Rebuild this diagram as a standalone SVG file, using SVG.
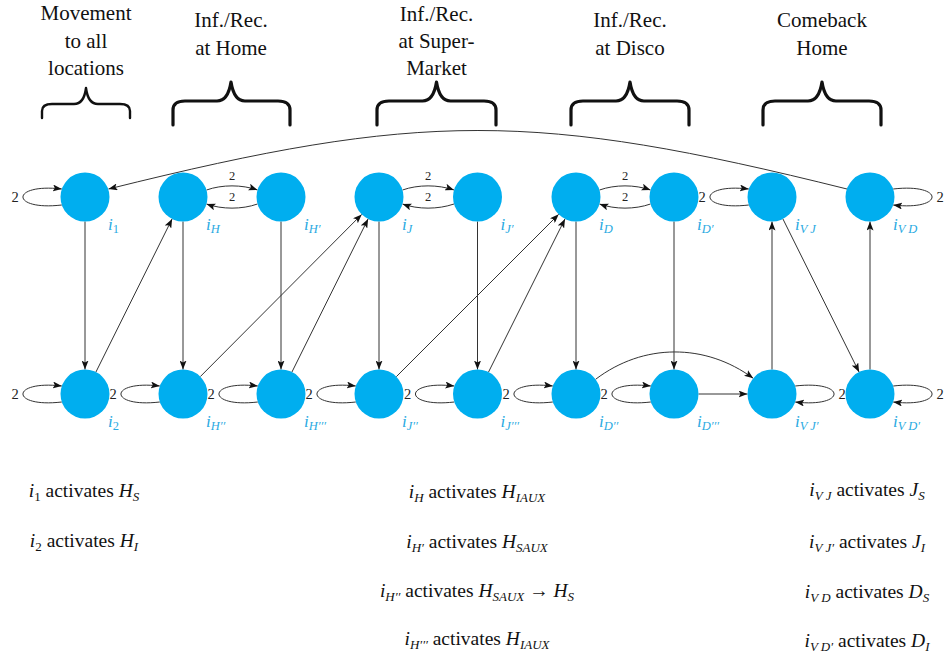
<svg xmlns="http://www.w3.org/2000/svg" width="945" height="656" viewBox="0 0 945 656">
  <style>
    .hd { font-family: "Liberation Serif", "DejaVu Serif", serif; font-size: 21px; fill: #111; text-anchor: middle; }
    .brace { fill: none; stroke: #111; stroke-width: 3.2; stroke-linecap: round; stroke-linejoin: round; }
    .node { fill: #00AEEF; }
    .lbl { font-family: "Liberation Serif", serif; font-size: 17px; fill: #2aaae2; font-style: italic; }
    .ls { font-size: 12.5px; }
    .up { font-style: normal; }
    .edge { fill: none; stroke: #333; stroke-width: 1; marker-end: url(#arr); }
    .w { font-family: "Liberation Serif", serif; fill: #222; text-anchor: middle; }
    .w14 { font-size: 14.5px; }
    .w12 { font-size: 12.5px; }
    .eq { font-family: "Liberation Serif", serif; font-size: 19.5px; fill: #111; text-anchor: middle; }
    .it { font-style: italic; }
    .sb { font-size: 13px; }
  </style>
  <defs>
    <marker id="arr" markerUnits="userSpaceOnUse" markerWidth="9" markerHeight="7" refX="9" refY="3.5" orient="auto">
      <path d="M0,0 L9,3.5 L0,7 L2,3.5 Z" fill="#111"/>
    </marker>
  </defs>

  <!-- stage headings -->
  <g id="headings">
    <text class="hd" x="86" y="20">Movement</text>
    <text class="hd" x="86" y="48">to all</text>
    <text class="hd" x="86" y="75">locations</text>
    <text class="hd" x="231" y="27">Inf./Rec.</text>
    <text class="hd" x="231" y="55">at Home</text>
    <text class="hd" x="436.5" y="21">Inf./Rec.</text>
    <text class="hd" x="436.5" y="48">at Super-</text>
    <text class="hd" x="436.5" y="75">Market</text>
    <text class="hd" x="630" y="27">Inf./Rec.</text>
    <text class="hd" x="630" y="55">at Disco</text>
    <text class="hd" x="822" y="27">Comeback</text>
    <text class="hd" x="822" y="55">Home</text>
  </g>

  <!-- braces over each stage -->
  <g id="braces">
    <path class="brace" style="stroke-width:2.4" d="M42,118 V111 Q42,104 52,104 H74 Q84,104 86,88 Q88,104 98,104 H120 Q130,104 130,111 V118"/>
    <path class="brace" d="M173,125 V110 Q173,101 185,101 H217 Q228,101 231,82 Q234,101 245,101 H278 Q290,101 290,110 V125"/>
    <path class="brace" d="M377,125 V110 Q377,101 389,101 H422.5 Q433.5,101 436.5,82 Q439.5,101 450.5,101 H484 Q496,101 496,110 V125"/>
    <path class="brace" d="M571,125 V110 Q571,101 583,101 H616 Q627,101 630,82 Q633,101 644,101 H677 Q689,101 689,110 V125"/>
    <path class="brace" d="M763,125 V110 Q763,101 775,101 H808 Q819,101 822,82 Q825,101 836,101 H869 Q881,101 881,110 V125"/>
  </g>

  <!-- connectors -->
  <g id="connectors">
    <!-- vertical transitions -->
    <path class="edge" d="M85,221.5 V369.5"/>
    <path class="edge" d="M183,221.5 V369.5"/>
    <path class="edge" d="M281,221.5 V369.5"/>
    <path class="edge" d="M379,221.5 V369.5"/>
    <path class="edge" d="M477.5,221.5 V369.5"/>
    <path class="edge" d="M576,221.5 V369.5"/>
    <path class="edge" d="M674,221.5 V369.5"/>
    <path class="edge" d="M772,369.5 V221.5"/>
    <path class="edge" d="M870,369.5 V221.5"/>
    <!-- diagonal transitions -->
    <path class="edge" d="M95.9,372.1 L172.1,218.9"/>
    <path class="edge" d="M200.3,376.6 L361.7,214.4"/>
    <path class="edge" d="M291.9,372.1 L368.1,218.9"/>
    <path class="edge" d="M396.3,376.7 L558.7,214.3"/>
    <path class="edge" d="M488.5,372.1 L565,218.9"/>
    <path class="edge" d="M782.9,218.9 L859.1,372.1"/>
    <path class="edge" d="M698.5,394 H747.5"/>
    <path class="edge" d="M595.6,379.3 C643.4,343 705.4,343 753.2,378.3"/>
    <!-- return arc -->
    <path class="edge" d="M847,189 C534,111 422,111 108.5,189"/>
    <!-- paired exchanges -->
    <path class="edge" d="M206.5,190 C222,184.5 242,184.5 257.5,190"/>
    <path class="edge" d="M257.5,204 C242,209.5 222,209.5 206.5,204"/>
    <path class="edge" d="M402.5,190 C418,184.5 438,184.5 454,190"/>
    <path class="edge" d="M454,204 C438,209.5 418,209.5 402.5,204"/>
    <path class="edge" d="M599.5,190 C615,184.5 635,184.5 650.5,190"/>
    <path class="edge" d="M650.5,204 C635,209.5 615,209.5 599.5,204"/>
    <!-- self loops -->
    <path class="edge" d="M61.8,205 C10,211 10,183 61.8,189"/>
    <path class="edge" d="M748.8,205 C697,211 697,183 748.8,189"/>
    <path class="edge" d="M893.2,189 C945,183 945,211 893.2,205"/>
    <path class="edge" d="M61.8,402 C10,408 10,380 61.8,386"/>
    <path class="edge" d="M159.8,402 C108,408 108,380 159.8,386"/>
    <path class="edge" d="M257.8,402 C206,408 206,380 257.8,386"/>
    <path class="edge" d="M355.8,402 C304,408 304,380 355.8,386"/>
    <path class="edge" d="M454.3,402 C402.5,408 402.5,380 454.3,386"/>
    <path class="edge" d="M552.8,402 C501,408 501,380 552.8,386"/>
    <path class="edge" d="M650.8,402 C599,408 599,380 650.8,386"/>
    <path class="edge" d="M795.2,386 C847,380 847,408 795.2,402"/>
    <path class="edge" d="M893.2,386 C945,380 945,408 893.2,402"/>
    <!-- weights -->
    <text class="w w12" x="232" y="180">2</text>
    <text class="w w12" x="232" y="201">2</text>
    <text class="w w12" x="428" y="180">2</text>
    <text class="w w12" x="428" y="201">2</text>
    <text class="w w12" x="625" y="180">2</text>
    <text class="w w12" x="625" y="201">2</text>
    <text class="w w14" x="15" y="202">2</text>
    <text class="w w14" x="702" y="202">2</text>
    <text class="w w14" x="940" y="202">2</text>
    <text class="w w14" x="15" y="399">2</text>
    <text class="w w14" x="113" y="399">2</text>
    <text class="w w14" x="211" y="399">2</text>
    <text class="w w14" x="309" y="399">2</text>
    <text class="w w14" x="407.5" y="399">2</text>
    <text class="w w14" x="506" y="399">2</text>
    <text class="w w14" x="604" y="399">2</text>
    <text class="w w14" x="842" y="399">2</text>
    <text class="w w14" x="940" y="399">2</text>
  </g>

  <!-- top row of states -->
  <g id="n-i1"><circle class="node" cx="85" cy="197" r="24.5"/><text class="lbl" x="108" y="230">i<tspan class="ls up" dy="3">1</tspan></text></g>
  <g id="n-iH"><circle class="node" cx="183" cy="197" r="24.5"/><text class="lbl" x="206" y="230">i<tspan class="ls" dy="3">H</tspan></text></g>
  <g id="n-iH1"><circle class="node" cx="281" cy="197" r="24.5"/><text class="lbl" x="304" y="230">i<tspan class="ls" dy="3">H′</tspan></text></g>
  <g id="n-iJ"><circle class="node" cx="379" cy="197" r="24.5"/><text class="lbl" x="402" y="230">i<tspan class="ls" dy="3">J</tspan></text></g>
  <g id="n-iJ1"><circle class="node" cx="477.5" cy="197" r="24.5"/><text class="lbl" x="500.5" y="230">i<tspan class="ls" dy="3">J′</tspan></text></g>
  <g id="n-iD"><circle class="node" cx="576" cy="197" r="24.5"/><text class="lbl" x="599" y="230">i<tspan class="ls" dy="3">D</tspan></text></g>
  <g id="n-iD1"><circle class="node" cx="674" cy="197" r="24.5"/><text class="lbl" x="697" y="230">i<tspan class="ls" dy="3">D′</tspan></text></g>
  <g id="n-iVJ"><circle class="node" cx="772" cy="197" r="24.5"/><text class="lbl" x="795" y="230">i<tspan class="ls" dy="3">V J</tspan></text></g>
  <g id="n-iVD"><circle class="node" cx="870" cy="197" r="24.5"/><text class="lbl" x="893" y="230">i<tspan class="ls" dy="3">V D</tspan></text></g>

  <!-- bottom row of states -->
  <g id="n-i2"><circle class="node" cx="85" cy="394" r="24.5"/><text class="lbl" x="108" y="427">i<tspan class="ls up" dy="3">2</tspan></text></g>
  <g id="n-iH2"><circle class="node" cx="183" cy="394" r="24.5"/><text class="lbl" x="206" y="427">i<tspan class="ls" dy="3">H′′</tspan></text></g>
  <g id="n-iH3"><circle class="node" cx="281" cy="394" r="24.5"/><text class="lbl" x="304" y="427">i<tspan class="ls" dy="3">H′′′</tspan></text></g>
  <g id="n-iJ2"><circle class="node" cx="379" cy="394" r="24.5"/><text class="lbl" x="402" y="427">i<tspan class="ls" dy="3">J′′</tspan></text></g>
  <g id="n-iJ3"><circle class="node" cx="477.5" cy="394" r="24.5"/><text class="lbl" x="500.5" y="427">i<tspan class="ls" dy="3">J′′′</tspan></text></g>
  <g id="n-iD2"><circle class="node" cx="576" cy="394" r="24.5"/><text class="lbl" x="599" y="427">i<tspan class="ls" dy="3">D′′</tspan></text></g>
  <g id="n-iD3"><circle class="node" cx="674" cy="394" r="24.5"/><text class="lbl" x="697" y="427">i<tspan class="ls" dy="3">D′′′</tspan></text></g>
  <g id="n-iVJ1"><circle class="node" cx="772" cy="394" r="24.5"/><text class="lbl" x="795" y="427">i<tspan class="ls" dy="3">V J′</tspan></text></g>
  <g id="n-iVD1"><circle class="node" cx="870" cy="394" r="24.5"/><text class="lbl" x="893" y="427">i<tspan class="ls" dy="3">V D′</tspan></text></g>

  <!-- activation rules -->
  <g id="rules">
    <text class="eq" x="84" y="497"><tspan class="it">i</tspan><tspan class="sb" dy="4">1</tspan><tspan dy="-4"> activates </tspan><tspan class="it">H</tspan><tspan class="sb it" dy="4">S</tspan></text>
    <text class="eq" x="84" y="547"><tspan class="it">i</tspan><tspan class="sb" dy="4">2</tspan><tspan dy="-4"> activates </tspan><tspan class="it">H</tspan><tspan class="sb it" dy="4">I</tspan></text>

    <text class="eq" x="477" y="498"><tspan class="it">i</tspan><tspan class="sb it" dy="4">H</tspan><tspan dy="-4"> activates </tspan><tspan class="it">H</tspan><tspan class="sb it" dy="4">IAUX</tspan></text>
    <text class="eq" x="477" y="548"><tspan class="it">i</tspan><tspan class="sb it" dy="4">H′</tspan><tspan dy="-4"> activates </tspan><tspan class="it">H</tspan><tspan class="sb it" dy="4">SAUX</tspan></text>
    <text class="eq" x="477" y="597"><tspan class="it">i</tspan><tspan class="sb it" dy="4">H′′</tspan><tspan dy="-4"> activates </tspan><tspan class="it">H</tspan><tspan class="sb it" dy="4">SAUX</tspan><tspan dy="-4"> → </tspan><tspan class="it">H</tspan><tspan class="sb it" dy="4">S</tspan></text>
    <text class="eq" x="477" y="645"><tspan class="it">i</tspan><tspan class="sb it" dy="4">H′′′</tspan><tspan dy="-4"> activates </tspan><tspan class="it">H</tspan><tspan class="sb it" dy="4">IAUX</tspan></text>

    <text class="eq" x="867" y="496"><tspan class="it">i</tspan><tspan class="sb it" dy="4">V J</tspan><tspan dy="-4"> activates </tspan><tspan class="it">J</tspan><tspan class="sb it" dy="4">S</tspan></text>
    <text class="eq" x="867" y="548"><tspan class="it">i</tspan><tspan class="sb it" dy="4">V J′</tspan><tspan dy="-4"> activates </tspan><tspan class="it">J</tspan><tspan class="sb it" dy="4">I</tspan></text>
    <text class="eq" x="867" y="598"><tspan class="it">i</tspan><tspan class="sb it" dy="4">V D</tspan><tspan dy="-4"> activates </tspan><tspan class="it">D</tspan><tspan class="sb it" dy="4">S</tspan></text>
    <text class="eq" x="867" y="647"><tspan class="it">i</tspan><tspan class="sb it" dy="4">V D′</tspan><tspan dy="-4"> activates </tspan><tspan class="it">D</tspan><tspan class="sb it" dy="4">I</tspan></text>
  </g>
</svg>
